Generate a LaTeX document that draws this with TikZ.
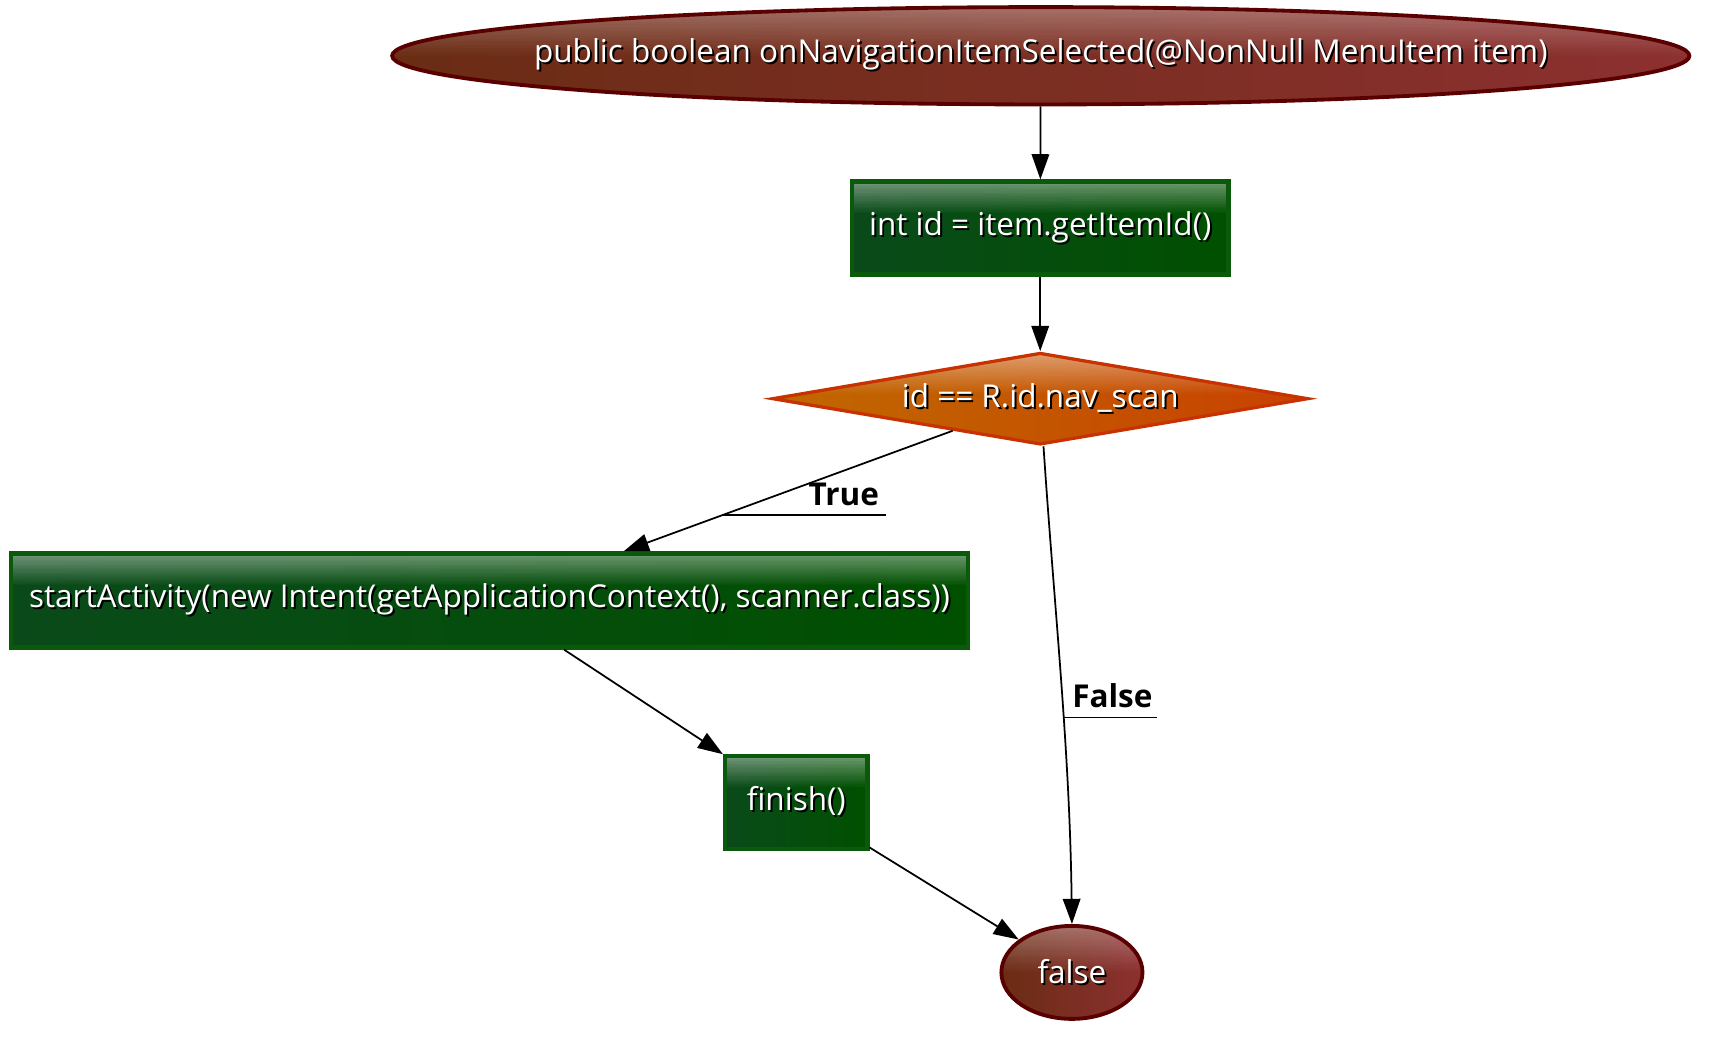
\documentclass[tikz,border=0pt]{standalone}
\usepackage{fontspec}
\setmainfont{Open Sans}
\usetikzlibrary{arrows.meta,shapes.geometric,calc}
\definecolor{gfill1}{HTML}{0A4A1A}
\definecolor{gfill2}{HTML}{005000}
\definecolor{gborder}{HTML}{0B5A0B}
\definecolor{rfill1}{HTML}{6A2C14}
\definecolor{rfill2}{HTML}{8C3030}
\definecolor{rborder}{HTML}{5A0000}
\definecolor{ofill1}{HTML}{C06800}
\definecolor{ofill2}{HTML}{C84200}
\definecolor{oborder}{HTML}{C83200}
\newcommand{\shtxt}[1]{\leavevmode\rlap{\kern1.8pt\raisebox{-1.8pt}{\textcolor{black}{#1}}}\textcolor{white}{#1}}
\newcommand{\ztxt}[1]{\makebox[0pt][c]{\shtxt{#1}}}
\begin{document}
\begin{tikzpicture}[x=1pt,y=-1pt, font=\fontsize{28.8pt}{34pt}\selectfont,
  gloss/.style 2 args={path picture={
    \foreach \i in {0,...,19}{
      \pgfmathsetmacro{\ga}{#1*\i/20}
      \pgfmathsetmacro{\gb}{#1*(\i+1)/20}
      \pgfmathsetmacro{\go}{#2*(1-\i/20)}
      \fill[white, fill opacity=\go] ($(path picture bounding box.north west)!\ga!(path picture bounding box.south west)$) rectangle ($(path picture bounding box.north east)!\gb!(path picture bounding box.south east)$);
    }}},
  gbox/.style={rectangle, draw=gborder, line width=4pt, left color=gfill1, right color=gfill2, inner sep=0pt, gloss={0.34}{0.42}},
  rell/.style={ellipse, draw=rborder, line width=3.5pt, left color=rfill1, right color=rfill2, inner sep=0pt, gloss={0.5}{0.32}},
  odia/.style={diamond, draw=oborder, line width=3pt, left color=ofill1, right color=ofill2, inner sep=0pt, gloss={0.45}{0.42}},
  arr/.style={line width=1.6pt, -{Triangle[length=23pt,width=16pt]}},
  elabel/.style={font=\fontsize{28.8pt}{34pt}\selectfont\bfseries, inner sep=0pt},
  deco/.style={line width=1.6pt}
]
\useasboundingbox (0,0) rectangle (1567,954.4);
\node[rell, minimum width=1186pt, minimum height=89pt] (top) at (951.5,51) {\ztxt{public boolean onNavigationItemSelected(@NonNull MenuItem item)}};
\node[gbox, minimum width=344pt, minimum height=85pt] (b1) at (951,208.5) {\shtxt{int id = item.getItemId()}};
\node[odia, minimum width=490pt, minimum height=84pt] (dia) at (951,364.5) {\ztxt{id == R.id.nav\_scan}};
\node[gbox, minimum width=875pt, minimum height=86pt] (sa) at (447.5,549) {\shtxt{startActivity(new Intent(getApplicationContext(), scanner.class))}};
\node[gbox, minimum width=130pt, minimum height=85pt] (fin) at (728,733.5) {\shtxt{finish()}};
\node[rell, minimum width=129pt, minimum height=85pt] (fal) at (980,889) {\ztxt{false}};
\draw[arr] (top) -- (b1);
\draw[arr] (b1) -- (dia);
\draw[arr] (dia) -- (sa);
\draw[arr] (sa) -- (fin);
\draw[arr] (fin) -- (fal);
\draw[arr] ([xshift=3pt]dia.south) .. controls +(10,150) and +(-2,-160) .. (fal.north);
\node[elabel, anchor=base] (tl) at (771.5,462) {True};
\coordinate (tu1) at (660,471);
\coordinate (tu2) at (810,471);
\draw[deco] (tu1) -- (tu2);
\node[elabel, anchor=base] (fl) at (1017,647) {False};
\coordinate (fu1) at (972,656);
\coordinate (fu2) at (1058,656);
\draw[deco] (fu1) -- (fu2);
\end{tikzpicture}
\end{document}
